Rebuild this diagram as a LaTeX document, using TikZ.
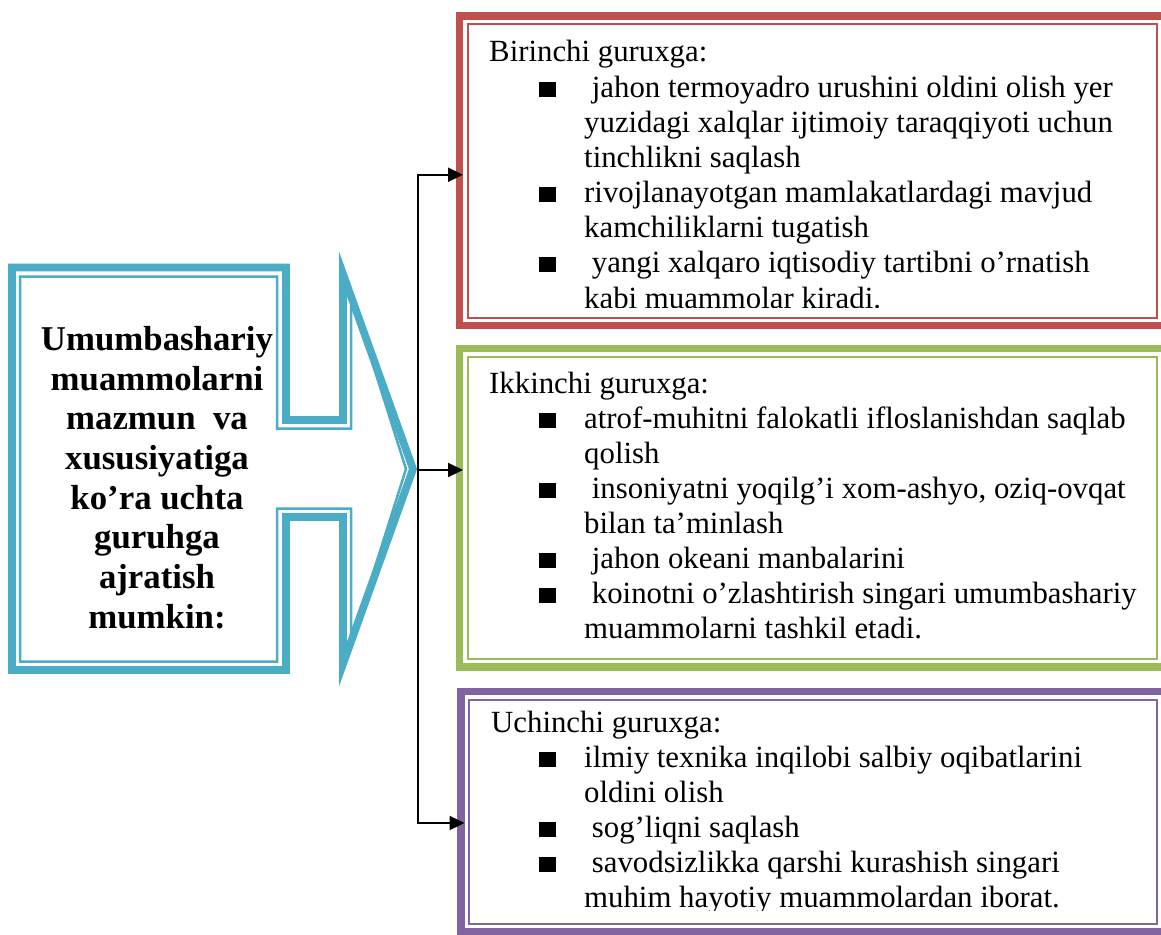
\documentclass[tikz,border=0pt]{standalone}
\usepackage{fontspec}
\setmainfont{Liberation Serif}
\usetikzlibrary{arrows.meta, calc}
\definecolor{LeadBlue}{RGB}{75, 172, 198}
\definecolor{GroupRed}{RGB}{192, 80, 77}
\definecolor{GroupGreen}{RGB}{155, 187, 89}
\definecolor{GroupPurple}{RGB}{128, 100, 162}
\newcommand{\blt}{\makebox[45pt][l]{\rule[0.5pt]{17pt}{15pt}}}

\begin{document}
\begin{tikzpicture}[x=1pt, y=1pt,
    grpbox/.style={draw=#1, line width=7.6pt, rectangle, inner sep=0pt, outer sep=0pt,
                   anchor=north west, minimum width=705.5pt},
    grptext/.style={anchor=base west, inner sep=0pt, font=\fontsize{30.8}{35}\selectfont},
    leadtext/.style={anchor=base, inner sep=0pt, font=\bfseries\fontsize{34.8}{40}\selectfont},
    conn/.style={line width=2.2pt, -{Triangle[length=15pt, width=14pt]}, shorten >=-3.5pt}]
  \useasboundingbox (0,0) rectangle (1161,-934);

  % group boxes: thick outer line, thin inner line
  \node[grpbox=GroupRed, minimum height=309.5pt] (birinchi) at (459.5,-16) {};
  \node[grpbox=GroupGreen, minimum height=318.5pt] (ikkinchi) at (459.5,-348.5) {};
  \node[grpbox=GroupPurple, minimum height=240pt, minimum width=704pt] (uchinchi) at (461,-691.5) {};
  \foreach \b/\c in {birinchi/GroupRed, ikkinchi/GroupGreen, uchinchi/GroupPurple}
    \draw[\c, line width=2pt] ([shift={(8,-8)}]\b.north west) rectangle ([shift={(-8,8)}]\b.south east);

  % arrow-shaped callout on the left
  \draw[LeadBlue, line width=7.7pt, line join=miter]
    (12,-267.5) -- (286,-267.5) -- (286,-420) -- (343,-420) -- (343,-274) -- (413,-469)
    -- (343,-664) -- (343,-517) -- (286,-517) -- (286,-670) -- (12,-670) -- cycle;
  \draw[LeadBlue, line width=2.5pt, line join=miter]
    (20,-276.5) -- (277,-276.5) -- (277,-428.5) -- (351,-428.5) -- (351,-295) -- (406,-469)
    -- (351,-643) -- (351,-508.5) -- (277,-508.5) -- (277,-661.5) -- (20,-661.5) -- cycle;
  \foreach \y/\txt in {350/Umumbashariy, 390/muammolarni, 429/{mazmun\ \ va}, 469/xususiyatiga,
                       509/{ko’ra uchta}, 548/guruhga, 588/ajratish, 628/mumkin:}
    \node[leadtext] (lead\y) at (157,-\y) {\txt};

  % connectors
  \coordinate (tip) at (418,-470);
  \draw[conn] (tip) |- ([yshift=-4]birinchi.west);
  \draw[conn] (tip) -- (tip -| ikkinchi.west);
  \draw[conn] (tip) |- ([yshift=-11.5]uchinchi.west);

  % group texts
  \begin{scope}
    \clip (467,-23) rectangle (1157,-307);
    \foreach \y/\x/\txt in {62/489/{Birinchi guruxga:},
        97/539/{\blt\ jahon termoyadro urushini oldini olish yer},
        132/584/{yuzidagi xalqlar ijtimoiy taraqqiyoti uchun},
        167/584/{tinchlikni saqlash},
        202/539/{\blt rivojlanayotgan mamlakatlardagi mavjud},
        237/584/{kamchiliklarni tugatish},
        272/539/{\blt\ yangi xalqaro iqtisodiy tartibni o’rnatish},
        308/584/{kabi muammolar kiradi.}}
      \node[grptext] (bir\y) at (\x,-\y) {\txt};
  \end{scope}
  \foreach \y/\x/\txt in {393/489/{Ikkinchi guruxga:},
      428/539/{\blt atrof-muhitni falokatli ifloslanishdan saqlab},
      463/584/{qolish},
      498/539/{\blt\ insoniyatni yoqilg’i xom-ashyo, oziq-ovqat},
      533/584/{bilan ta’minlash},
      568/539/{\blt\ jahon okeani manbalarini},
      603/539/{\blt\ koinotni o’zlashtirish singari umumbashariy},
      638/584/{muammolarni tashkil etadi.}}
    \node[grptext] (ikki\y) at (\x,-\y) {\txt};
  \begin{scope}
    \clip (468,-699) rectangle (1157,-910);
    \foreach \y/\x/\txt in {732/491/{Uchinchi guruxga:},
        767/539/{\blt ilmiy texnika inqilobi salbiy oqibatlarini},
        802/584/{oldini olish},
        837/539/{\blt\ sog’liqni saqlash},
        872/539/{\blt\ savodsizlikka qarshi kurashish singari},
        907/584/{muhim hayotiy muammolardan iborat.}}
      \node[grptext] (uch\y) at (\x,-\y) {\txt};
  \end{scope}
\end{tikzpicture}
\end{document}
